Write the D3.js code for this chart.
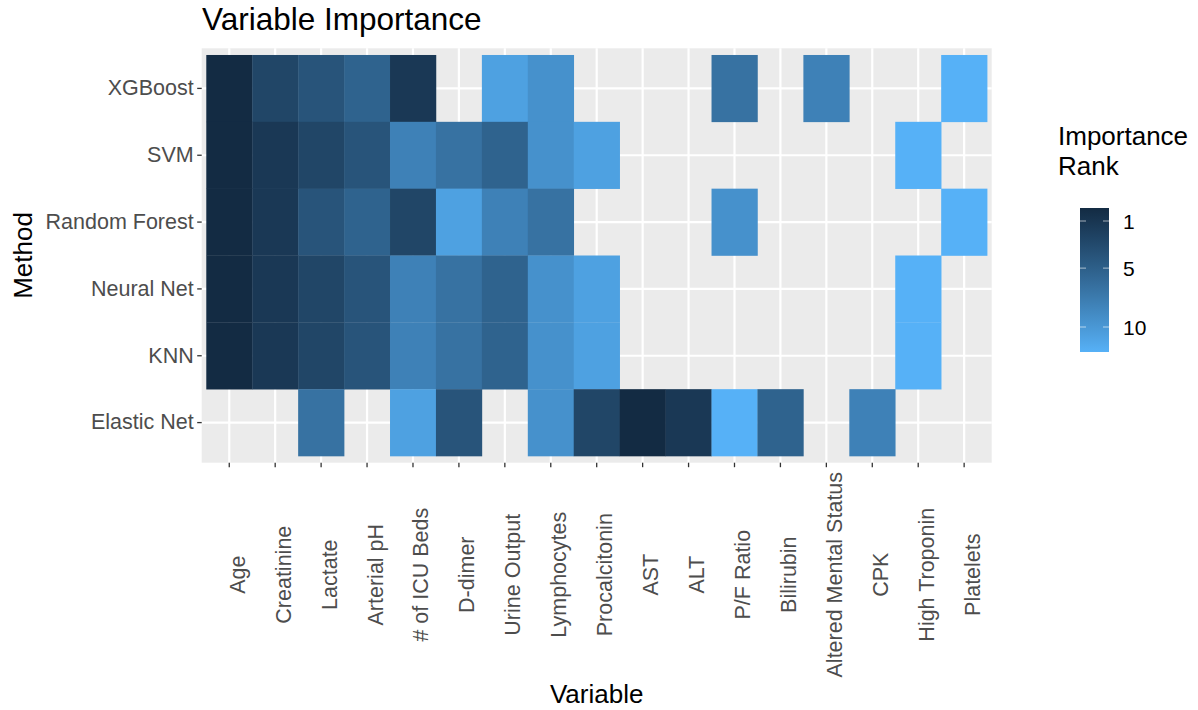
<!DOCTYPE html>
<html>
<head>
<meta charset="utf-8">
<script src="https://cdn.jsdelivr.net/npm/d3@7"></script>
<style>
  html, body { margin: 0; padding: 0; background: #ffffff; }
  svg { display: block; font-family: "Liberation Sans", Arial, Helvetica, sans-serif; }
</style>
</head>
<body>
<svg id="chart" width="1198" height="710"></svg>
<script>
// Variables on the x axis, in plotting order
const variables = ["Age", "Creatinine", "Lactate", "Arterial pH", "# of ICU Beds", "D-dimer",
  "Urine Output", "Lymphocytes", "Procalcitonin", "AST", "ALT", "P/F Ratio", "Bilirubin",
  "Altered Mental Status", "CPK", "High Troponin", "Platelets"];

// Methods on the y axis, top to bottom
const methods = ["XGBoost", "SVM", "Random Forest", "Neural Net", "KNN", "Elastic Net"];

// Importance rank of each variable per method (null = not among the selected variables)
const rankXGBoost      = [1, 3, 4, 5, 2, null, 9, 8, null, null, null, 6, null, 7, null, null, 10];
const rankSVM          = [1, 2, 3, 4, 7, 6, 5, 8, 9, null, null, null, null, null, null, 10, null];
const rankRandomForest = [1, 2, 4, 5, 3, 9, 7, 6, null, null, null, 8, null, null, null, null, 10];
const rankNeuralNet    = [1, 2, 3, 4, 7, 6, 5, 8, 9, null, null, null, null, null, null, 10, null];
const rankKNN          = [1, 2, 3, 4, 7, 6, 5, 8, 9, null, null, null, null, null, null, 10, null];
const rankElasticNet   = [null, null, 6, null, 9, 4, null, 8, 3, 1, 2, 10, 5, null, 7, null, null];

// Legend breaks
const legendBreaks = [1, 5, 10];

const ranksByMethod = {
  "XGBoost": rankXGBoost,
  "SVM": rankSVM,
  "Random Forest": rankRandomForest,
  "Neural Net": rankNeuralNet,
  "KNN": rankKNN,
  "Elastic Net": rankElasticNet
};

// Long-format cells for the tile layer
const cells = [];
methods.forEach(m => {
  ranksByMethod[m].forEach((r, i) => {
    if (r !== null) cells.push({ method: m, variable: variables[i], rank: r });
  });
});

const svg = d3.select("#chart");
svg.append("rect").attr("width", 1198).attr("height", 710).attr("fill", "#ffffff");

// Panel geometry
const panel = { left: 201.7, right: 991.7, top: 48.3, bottom: 462.7 };

const x = d3.scaleBand().domain(variables)
  .range([panel.left, panel.right]).paddingInner(0).paddingOuter(0.1);
const y = d3.scaleBand().domain(methods)
  .range([panel.top, panel.bottom]).paddingInner(0).paddingOuter(0.1);

const lowCol = "#132B43", highCol = "#56B1F7";
const fill = d3.scaleLinear().domain([1, 10]).range([lowCol, highCol]).interpolate(d3.interpolateLab);

// Panel background
svg.append("rect")
  .attr("x", panel.left).attr("y", panel.top)
  .attr("width", panel.right - panel.left).attr("height", panel.bottom - panel.top)
  .attr("fill", "#EBEBEB");

// Major grid lines at category centres
const grid = svg.append("g");
grid.selectAll("line.v").data(variables).join("line")
  .attr("x1", d => x(d) + x.bandwidth() / 2).attr("x2", d => x(d) + x.bandwidth() / 2)
  .attr("y1", panel.top).attr("y2", panel.bottom)
  .attr("stroke", "#ffffff").attr("stroke-width", 2.2);
grid.selectAll("line.h").data(methods).join("line")
  .attr("y1", d => y(d) + y.bandwidth() / 2).attr("y2", d => y(d) + y.bandwidth() / 2)
  .attr("x1", panel.left).attr("x2", panel.right)
  .attr("stroke", "#ffffff").attr("stroke-width", 2.2);

// Tiles
svg.append("g").selectAll("rect").data(cells).join("rect")
  .attr("x", d => x(d.variable))
  .attr("y", d => y(d.method))
  .attr("width", x.bandwidth() + 0.3)
  .attr("height", y.bandwidth() + 0.3)
  .attr("fill", d => fill(d.rank));

// Y axis
const yAxis = svg.append("g")
  .attr("transform", `translate(${panel.left},0)`)
  .call(d3.axisLeft(y).tickSize(4.5).tickPadding(3.5));
yAxis.select(".domain").remove();
yAxis.selectAll(".tick line").attr("stroke", "#333333").attr("stroke-width", 1.3);
yAxis.selectAll(".tick text")
  .attr("fill", "#4D4D4D").attr("font-size", "21.5px")
  .attr("font-family", "'Liberation Sans', Arial, sans-serif");

// X axis with vertical labels
const xAxis = svg.append("g")
  .attr("transform", `translate(0,${panel.bottom})`)
  .call(d3.axisBottom(x).tickSize(4.5));
xAxis.select(".domain").remove();
xAxis.selectAll(".tick line").attr("stroke", "#333333").attr("stroke-width", 1.3);
xAxis.selectAll(".tick text")
  .attr("fill", "#4D4D4D").attr("font-size", "21.5px")
  .attr("font-family", "'Liberation Sans', Arial, sans-serif")
  .attr("text-anchor", "middle")
  .attr("x", 0).attr("y", 0).attr("dy", "0.72em")
  .attr("transform", "translate(0,112) rotate(-90)");

// Axis titles
svg.append("text")
  .attr("x", (panel.left + panel.right) / 2).attr("y", 703)
  .attr("text-anchor", "middle").attr("font-size", "26px").attr("fill", "#000")
  .text("Variable");
svg.append("text")
  .attr("transform", `translate(32,${(panel.top + panel.bottom) / 2}) rotate(-90)`)
  .attr("text-anchor", "middle").attr("font-size", "26px").attr("fill", "#000")
  .text("Method");

// Plot title
svg.append("text")
  .attr("x", 202).attr("y", 30)
  .attr("font-size", "31.5px").attr("fill", "#000")
  .text("Variable Importance");

// Colour bar legend
const legend = svg.append("g");
legend.append("text").attr("x", 1058).attr("y", 145)
  .attr("font-size", "26px").attr("fill", "#000").text("Importance");
legend.append("text").attr("x", 1058).attr("y", 175)
  .attr("font-size", "26px").attr("fill", "#000").text("Rank");

const bar = { x: 1080, width: 29, top: 208, bottom: 352 };
const defs = svg.append("defs");
const grad = defs.append("linearGradient").attr("id", "rankGradient")
  .attr("x1", 0).attr("y1", 0).attr("x2", 0).attr("y2", 1);
d3.range(0, 1.0001, 0.1).forEach(t => {
  grad.append("stop").attr("offset", t)
    .attr("stop-color", d3.interpolateLab(lowCol, highCol)(t));
});
legend.append("rect")
  .attr("x", bar.x).attr("y", bar.top)
  .attr("width", bar.width).attr("height", bar.bottom - bar.top)
  .attr("fill", "url(#rankGradient)");

const legendScale = d3.scaleLinear().domain([1, 10]).range([221, 327]);
legend.selectAll("line.tl").data(legendBreaks).join("line")
  .attr("x1", bar.x).attr("x2", bar.x + 6)
  .attr("y1", d => legendScale(d)).attr("y2", d => legendScale(d))
  .attr("stroke", "#ffffff").attr("stroke-opacity", 0.6).attr("stroke-width", 1);
legend.selectAll("line.tr").data(legendBreaks).join("line")
  .attr("x1", bar.x + bar.width - 6).attr("x2", bar.x + bar.width)
  .attr("y1", d => legendScale(d)).attr("y2", d => legendScale(d))
  .attr("stroke", "#ffffff").attr("stroke-opacity", 0.6).attr("stroke-width", 1);
legend.selectAll("text.lab").data(legendBreaks).join("text")
  .attr("x", 1123).attr("y", d => legendScale(d)).attr("dy", "0.36em")
  .attr("font-size", "21px").attr("fill", "#000")
  .text(d => d);
</script>
</body>
</html>
